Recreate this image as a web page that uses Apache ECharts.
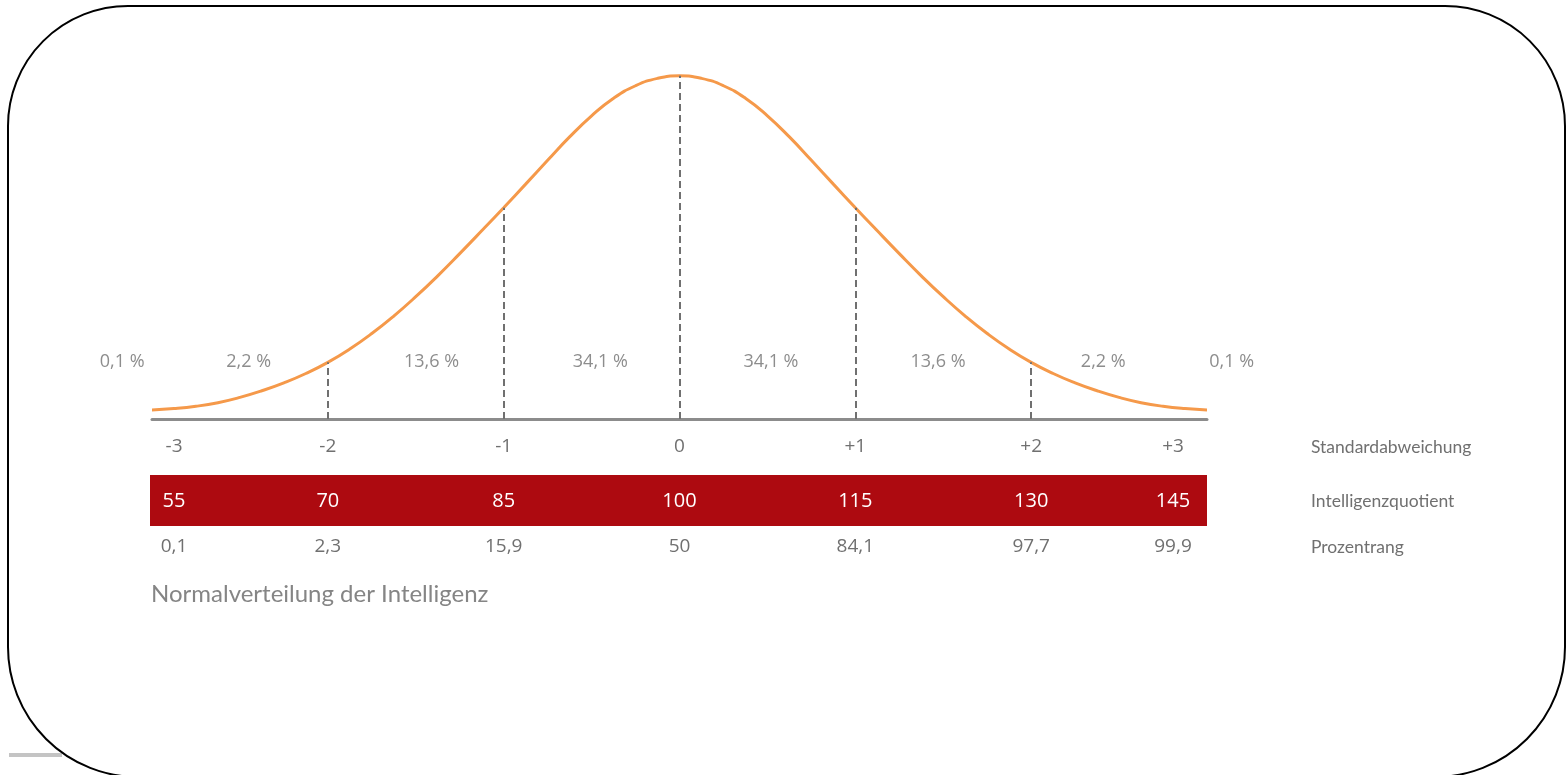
<!DOCTYPE html>
<html>
<head>
<meta charset="utf-8">
<script src="https://cdn.jsdelivr.net/npm/echarts@6/dist/echarts.min.js"></script>
<style>
  html, body { margin: 0; background: #fff; }
  #chart { width: 1566px; height: 775px; }
</style>
</head>
<body>
<div id="chart"></div>
<script>
// curve heights every eighth of a sigma
const sigmaX = [-3, -2.875, -2.75, -2.625, -2.5, -2.375, -2.25, -2.125, -2, -1.875, -1.75, -1.625,
  -1.5, -1.375, -1.25, -1.125, -1, -0.875, -0.75, -0.625, -0.5, -0.375, -0.25, -0.125, 0,
  0.125, 0.25, 0.375, 0.5, 0.625, 0.75, 0.875, 1, 1.125, 1.25, 1.375, 1.5,
  1.625, 1.75, 1.875, 2, 2.125, 2.25, 2.375, 2.5, 2.625, 2.75, 2.875, 3]
const density = [0.0105, 0.0121, 0.0148, 0.019, 0.0251, 0.0328, 0.042, 0.0529, 0.0659, 0.0814, 0.0994, 0.1197,
  0.1422, 0.1665, 0.1923, 0.2188, 0.2457, 0.2731, 0.3008, 0.328, 0.3525, 0.373, 0.3875, 0.3961, 0.399,
  0.3961, 0.3875, 0.373, 0.3525, 0.328, 0.3008, 0.2731, 0.2457, 0.2188, 0.1923, 0.1665, 0.1422,
  0.1197, 0.0994, 0.0814, 0.0659, 0.0529, 0.042, 0.0328, 0.0251, 0.019, 0.0148, 0.0121, 0.0105]

const dashX = [-2, -1, 0, 1, 2]

const sigmaTicks = ['-3', '-2', '-1', '0', '+1', '+2', '+3']
const iqTicks = ['55', '70', '85', '100', '115', '130', '145']
const rankTicks = ['0,1', '2,3', '15,9', '50', '84,1', '97,7', '99,9']
const rowNames = ['Standardabweichung', 'Intelligenzquotient', 'Prozentrang']

const shareLabels = ['0,1 %', '2,2 %', '13,6 %', '34,1 %', '34,1 %', '13,6 %', '2,2 %', '0,1 %']
const shareX = [-3.17, -2.45, -1.41, -0.45, 0.52, 1.47, 2.41, 3.14]
const shareY = 0.067

const title = 'Normalverteilung der Intelligenz'

const GRAY = '#707070'
const NUM_FONT = 'Open Sans'
const TEXT_FONT = 'Lato'

function tickText(list, v) {
  const i = Math.round(v + 3)
  const s = list[i]
  if (i === 0) return '{first|' + s + '}'
  if (i === list.length - 1) return '{last|' + s + '}'
  return s
}

function labelRow(list, offset, color, size, name) {
  return {
    type: 'value',
    gridIndex: 0,
    position: 'bottom',
    offset: offset,
    min: -3,
    max: 3,
    interval: 1,
    axisLine: { show: false },
    axisTick: { show: false },
    splitLine: { show: false },
    axisLabel: {
      margin: 0,
      verticalAlign: 'middle',
      color: color,
      fontSize: size,
      fontFamily: NUM_FONT,
      showMinLabel: true,
      showMaxLabel: true,
      formatter: v => tickText(list, v),
      rich: {
        first: { color: color, fontSize: size, fontFamily: NUM_FONT, padding: [0, 0, 0, 44] },
        last: { color: color, fontSize: size, fontFamily: NUM_FONT, padding: [0, 68, 0, 0] },
      },
    },
    name: name,
    nameLocation: 'end',
    nameGap: 104,
    nameTextStyle: {
      color: GRAY,
      fontSize: 17.5,
      fontFamily: TEXT_FONT,
      align: 'left',
      verticalAlign: 'middle',
    },
  }
}

const chart = echarts.init(document.getElementById('chart'))

chart.setOption({
  animation: false,
  backgroundColor: '#fff',
  title: {
    text: title,
    left: 146,
    top: 577,
    textStyle: { color: '#858585', fontSize: 24, fontWeight: 'normal', fontFamily: TEXT_FONT },
  },
  grid: [
    { left: 152, right: 359, top: 75, height: 344 },
    { left: 150, right: 359, top: 475, height: 51, show: true, backgroundColor: '#ad0a10', borderWidth: 0, z: 0 },
  ],
  xAxis: [
    {
      type: 'value',
      gridIndex: 0,
      position: 'bottom',
      min: -3,
      max: 3,
      interval: 1,
      axisLine: { show: true, lineStyle: { color: '#8c8c8c', width: 3 } },
      axisTick: { show: false },
      axisLabel: { show: false },
      splitLine: { show: false },
    },
    labelRow(sigmaTicks, 28, GRAY, 19, rowNames[0]),
    labelRow(iqTicks, 82, '#ffffff', 20, rowNames[1]),
    labelRow(rankTicks, 128, GRAY, 19, rowNames[2]),
    { type: 'value', gridIndex: 1, min: -3, max: 3, show: false },
  ],
  yAxis: [
    { type: 'value', gridIndex: 0, min: 0, max: 0.4, show: false },
    { type: 'value', gridIndex: 1, min: 0, max: 1, show: false },
  ],
  series: [
    {
      type: 'line',
      xAxisIndex: 0,
      yAxisIndex: 0,
      data: sigmaX.map((x, i) => [x, density[i]]),
      smooth: 0.5,
      showSymbol: false,
      lineStyle: { color: '#f5994a', width: 3 },
      z: 3,
      markLine: {
        silent: true,
        symbol: 'none',
        label: { show: false },
        lineStyle: { color: GRAY, width: 2, type: [7, 4] },
        data: dashX.map(x => [
          { coord: [x, 0] },
          { coord: [x, density[sigmaX.indexOf(x)]] },
        ]),
      },
    },
    {
      type: 'scatter',
      xAxisIndex: 0,
      yAxisIndex: 0,
      clip: false,
      symbolSize: 0,
      data: shareX.map(x => [x, shareY]),
      label: {
        show: true,
        position: 'inside',
        color: GRAY,
        fontSize: 18,
        fontFamily: NUM_FONT,
        formatter: p => shareLabels[p.dataIndex],
      },
    },
  ],
  graphic: [
    {
      type: 'line',
      z: 0,
      shape: { x1: 9, y1: 755, x2: 62, y2: 755 },
      style: { stroke: '#c4c4c4', lineWidth: 4 },
    },
    {
      type: 'rect',
      z: 1,
      shape: { x: 8, y: 6, width: 1557, height: 771, r: [120, 120, 130, 130] },
      style: { fill: 'none', stroke: '#000', lineWidth: 2 },
    },
  ],
})
</script>
</body>
</html>
